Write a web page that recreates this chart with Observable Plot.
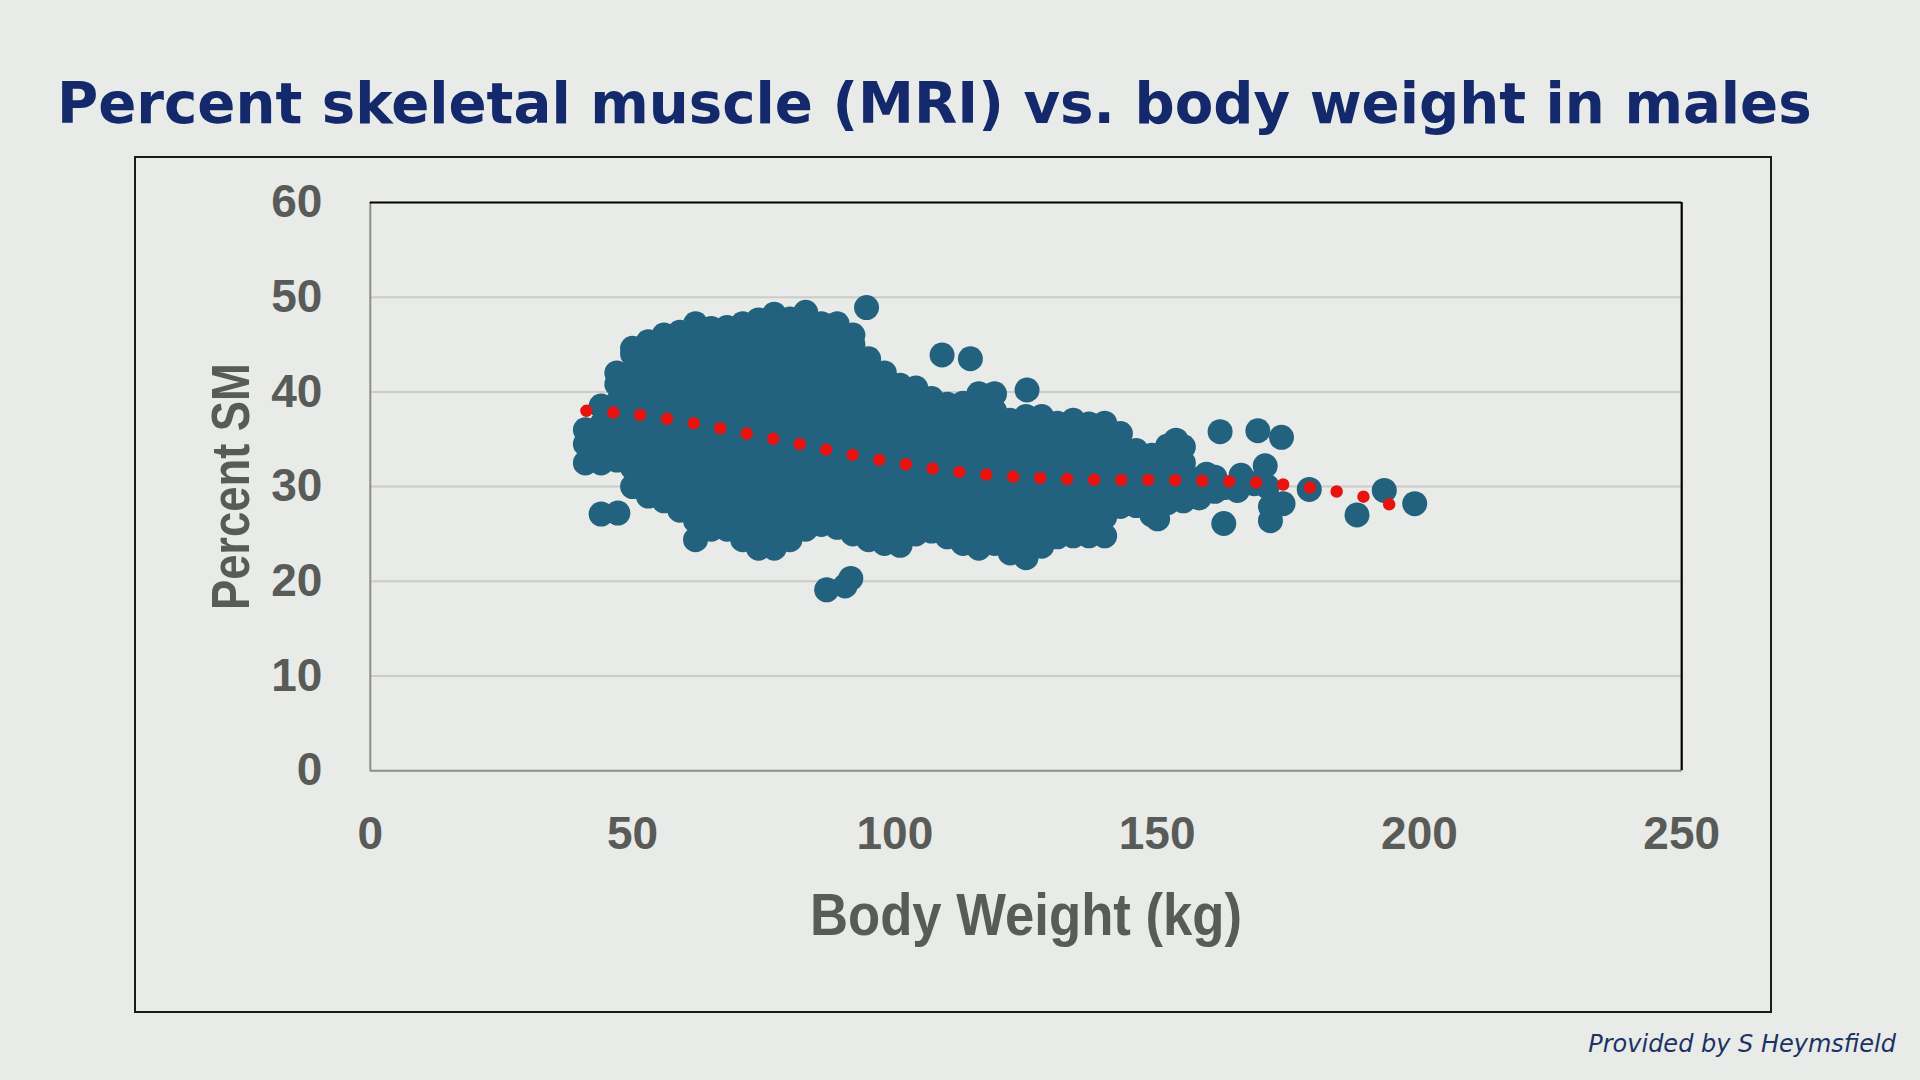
<!DOCTYPE html>
<html>
<head>
<meta charset="utf-8">
<script src="https://cdn.jsdelivr.net/npm/d3@7"></script>
<script src="https://cdn.jsdelivr.net/npm/@observablehq/plot@0.6"></script>
<style>
  html, body { margin: 0; padding: 0; background: #e9ebe8; }
  body { width: 1920px; height: 1080px; position: relative; overflow: hidden; }
  #title { position: absolute; left: 57px; top: 75.5px; font: bold 56.2px "DejaVu Sans", Verdana, sans-serif; line-height: 56px; color: #13296b; white-space: nowrap; }
  #box { position: absolute; left: 134px; top: 156px; width: 1634px; height: 853px; border: 2px solid #1b1b1b; }
  #box svg { position: absolute; left: 0; top: 0; }
  #caption { position: absolute; right: 24px; top: 1030px; font: oblique 24px "DejaVu Sans", sans-serif; color: #1c3366; white-space: nowrap; }
  #box g[aria-label="x-axis label"] { font-size: 60px; }
  #box g[aria-label="y-axis label"] { font-size: 54px; }
</style>
</head>
<body>
<div id="title"></div>
<div id="box"></div>
<div id="caption"></div>
<script>
const titleText = "Percent skeletal muscle (MRI) vs. body weight in males";
const captionText = "Provided by S Heymsfield";
const xLabel = "Body Weight (kg)";
const yLabel = "Percent SM";
const xTicks = [0, 50, 100, 150, 200, 250];
const yTicks = [0, 10, 20, 30, 40, 50, 60];
const yGrid = [10, 20, 30, 40, 50];

// Dense cloud, read column by column (body weight kg -> percent SM values)
const cloudWeights = [41,44,47,50,53,56,59,62,65,68,71,74,77,80,83,86,89,92,95,98,101,104,107,110,113,116,119,122,125,128,131,134,137,140,143,146,149,152,155,158,161];
const cloudPercents = [
  [32.5,34.5,36],
  [32.5,34.5,36.5,38.5],
  [32.8,34.8,36.8,38.8,40.8,42],
  [30,32,34,36,38,40,42,44,44.6],
  [29,31,33,35,37,39,41,43,45.3],
  [28.5,30.5,32.5,34.5,36.5,38.5,40.5,42.5,44.5,46],
  [27.5,29.5,31.5,33.5,35.5,37.5,39.5,41.5,43.5,45.5,46.3],
  [24.4,26.4,28.4,30.4,32.4,34.4,36.4,38.4,40.4,42.4,44.4,46.4,47.2],
  [25.5,27.5,29.5,31.5,33.5,35.5,37.5,39.5,41.5,43.5,45.5,46.7],
  [25.5,27.5,29.5,31.5,33.5,35.5,37.5,39.5,41.5,43.5,45.5,46.8],
  [24.4,26.4,28.4,30.4,32.4,34.4,36.4,38.4,40.4,42.4,44.4,46.4,47.2],
  [23.5,25.5,27.5,29.5,31.5,33.5,35.5,37.5,39.5,41.5,43.5,45.5,47.6],
  [23.5,25.5,27.5,29.5,31.5,33.5,35.5,37.5,39.5,41.5,43.5,45.5,47.5,48.2],
  [24.4,26.4,28.4,30.4,32.4,34.4,36.4,38.4,40.4,42.4,44.4,46.4,47.7],
  [25.5,27.5,29.5,31.5,33.5,35.5,37.5,39.5,41.5,43.5,45.5,47.5,48.4],
  [26,28,30,32,34,36,38,40,42,44,46,47.2],
  [25.7,27.7,29.7,31.7,33.7,35.7,37.7,39.7,41.7,43.7,45.7,47.2],
  [25,27,29,31,33,35,37,39,41,43,45,46],
  [24.4,26.4,28.4,30.4,32.4,34.4,36.4,38.4,40.4,42.4,43.5],
  [24,26,28,30,32,34,36,38,40,42],
  [23.8,25.8,27.8,29.8,31.8,33.8,35.8,37.8,39.8,40.7],
  [25,27,29,31,33,35,37,39,40.4],
  [25.3,27.3,29.3,31.3,33.3,35.3,37.3,39.3],
  [24.7,26.7,28.7,30.7,32.7,34.7,36.7,38.7],
  [24,26,28,30,32,34,36,38,38.8],
  [23.5,25.5,27.5,29.5,31.5,33.5,35.5,37.5,39.8],
  [24,26,28,30,32,34,36,38,39.8],
  [23,25,27,29,31,33,35,37],
  [22.5,24.5,26.5,28.5,30.5,32.5,34.5,36.5,37.4],
  [23.7,25.7,27.7,29.7,31.7,33.7,35.7,37.4],
  [24.7,26.7,28.7,30.7,32.7,34.7,36.7],
  [24.8,26.8,28.8,30.8,32.8,34.8,37],
  [24.8,26.8,28.8,30.8,32.8,34.8,36.6],
  [24.8,26.8,28.8,30.8,32.8,34.8,36.7],
  [27.9,29.9,31.9,33.9,35.6],
  [28,30,32,33.8],
  [27,29,31,33.3],
  [28.3,30.3,32.3,34.3],
  [28.5,30.5,32.5,34.2],
  [28.8,30.8],
  [29.5,31]
];
// Scattered individual points at the edges
const outlierWeights  = [44, 47.2, 94.6, 109, 114.4, 125.2, 87, 90.5, 91.6, 150.1, 153.6, 162, 169.2, 173.7, 170.6, 166, 159.4, 162.8, 165.3, 168.5, 171, 171.6, 171.6, 174, 179, 188.1, 193.3, 199.1, 162.7, 156];
const outlierPercents = [27.1, 27.2, 48.9, 43.9, 43.5, 40.2, 19.1, 19.5, 20.3, 26.6, 34.9, 35.8, 35.9, 35.2, 32.2, 31.2, 31.3, 29.9, 29.6, 30.3, 30.0, 27.9, 26.4, 28.2, 29.7, 27.0, 29.6, 28.2, 26.1, 29.5];
// Trend line (red dotted)
const trendWeights  = [41.2, 50, 60, 70, 80, 90, 100, 110, 120, 130, 140, 150, 160, 170, 180, 190, 194.4];
const trendPercents = [38.0, 37.65, 36.85, 35.8, 34.7, 33.55, 32.55, 31.7, 31.15, 30.85, 30.7, 30.7, 30.6, 30.4, 29.85, 28.85, 28.1];

const points = [];
cloudWeights.forEach((w, i) => cloudPercents[i].forEach(p => points.push({w, p})));
outlierWeights.forEach((w, i) => points.push({w, p: outlierPercents[i]}));
const trend = trendWeights.map((w, i) => ({w, p: trendPercents[i]}));

document.getElementById("title").textContent = titleText;
document.getElementById("caption").textContent = captionText;

const grey = "#595b58";
const chart = Plot.plot({
  width: 1634,
  height: 853,
  marginLeft: 233.8,
  marginRight: 88.8,
  marginTop: 44,
  marginBottom: 240.8,
  style: {background: "transparent", fontFamily: "'Liberation Sans', Arial, sans-serif", fontWeight: "bold", color: grey},
  x: {domain: [0, 250]},
  y: {domain: [0, 60]},
  marks: [
    Plot.gridY(yGrid, {stroke: "#cbccc8", strokeOpacity: 1, strokeWidth: 2}),
    Plot.ruleX([0], {stroke: "#8d8e8b", strokeWidth: 2}),
    Plot.ruleY([0], {stroke: "#8d8e8b", strokeWidth: 2}),
    Plot.ruleY([60], {stroke: "#000000", strokeWidth: 2.2}),
    Plot.ruleX([250], {stroke: "#000000", strokeWidth: 2.2}),
    Plot.dot(points, {x: "w", y: "p", r: 12.5, fill: "#22627e", stroke: null}),
    Plot.line(trend, {x: "w", y: "p", curve: "catmull-rom", stroke: "#e8120f", strokeWidth: 12.5, strokeDasharray: "0 26.7", strokeLinecap: "round"}),
    Plot.axisX(xTicks, {tickSize: 0, tickPadding: 46, fontSize: 46, fill: grey, label: xLabel, labelAnchor: "center", labelOffset: 164, labelArrow: "none"}),
    Plot.axisY(yTicks, {tickSize: 0, tickPadding: 48, fontSize: 46, fill: grey, label: yLabel, labelAnchor: "center", labelOffset: 160, labelArrow: "none"})
  ]
});
// condense the axis titles to the narrow face of the original
const xl = chart.querySelector('g[aria-label="x-axis label"] text');
if (xl) { xl.setAttribute("textLength", 432); xl.setAttribute("lengthAdjust", "spacingAndGlyphs"); }
const yl = chart.querySelector('g[aria-label="y-axis label"] text');
if (yl) { yl.setAttribute("textLength", 247); yl.setAttribute("lengthAdjust", "spacingAndGlyphs"); }
document.getElementById("box").appendChild(chart);
// make the round dots of the trend line land on both ends
const tp = chart.querySelector('g[aria-label="line"] path');
if (tp && tp.getTotalLength) {
  const L = tp.getTotalLength();
  if (isFinite(L) && L > 100) {
    const n = Math.round(L / 26.7);
    const period = Math.floor(((L - 1) / n) * 1000) / 1000;
    tp.setAttribute("stroke-dasharray", `0 ${period}`);
  }
}
</script>
</body>
</html>
